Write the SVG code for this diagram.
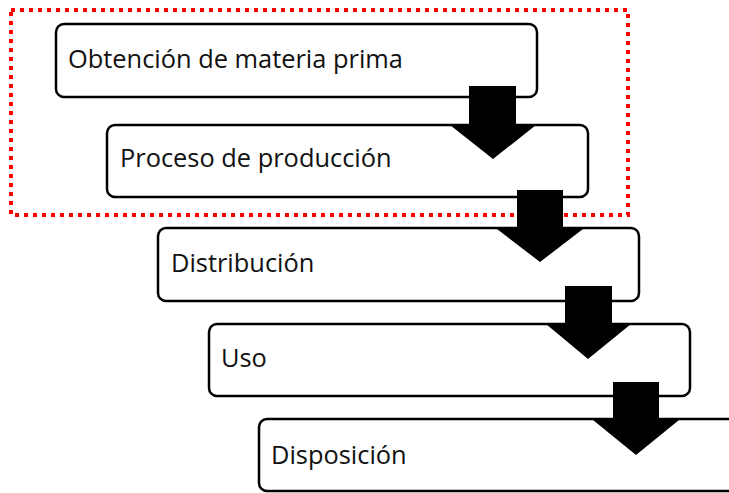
<svg xmlns="http://www.w3.org/2000/svg" width="729" height="493" viewBox="0 0 729 493">
<style>
.box{fill:#fff;stroke:#000;stroke-width:2.5}
.lbl{font-family:"Open Sans","Liberation Sans",sans-serif;font-size:25.4px;fill:#111}
.arr{fill:#000}
.sel{fill:none;stroke:#f00;stroke-width:4;stroke-dasharray:4 5}
</style>
<rect width="729" height="493" fill="#fff"/>
<g id="frame"><rect class="sel" x="11" y="10" width="617" height="205"/></g>
<g id="n1"><rect class="box" x="56" y="24" width="481" height="73" rx="8"/><text class="lbl" x="68" y="68">Obtención de materia prima</text></g>
<g id="n2"><rect class="box" x="107" y="125" width="481" height="72" rx="8"/><text class="lbl" x="120" y="167">Proceso de producción</text></g>
<g id="n3"><rect class="box" x="158" y="228" width="481" height="73" rx="8"/><text class="lbl" x="171" y="272">Distribución</text></g>
<g id="n4"><rect class="box" x="209" y="324" width="481" height="72" rx="8"/><text class="lbl" x="221" y="367">Uso</text></g>
<g id="n5"><rect class="box" x="259" y="419" width="481" height="72" rx="8"/><text class="lbl" x="271" y="464">Disposición</text></g>
<g id="connectors">
<polygon class="arr" points="469,86 516,86 516,125 536,125 493,159 450,125 469,125"/>
<polygon class="arr" points="517,190 563,190 563,229 583,229 540,262 497,229 517,229"/>
<polygon class="arr" points="565,286 612,286 612,324 631,324 588,359 546,324 565,324"/>
<polygon class="arr" points="613,382 659,382 659,420 679,420 636,455 593,420 613,420"/>
</g>
</svg>
